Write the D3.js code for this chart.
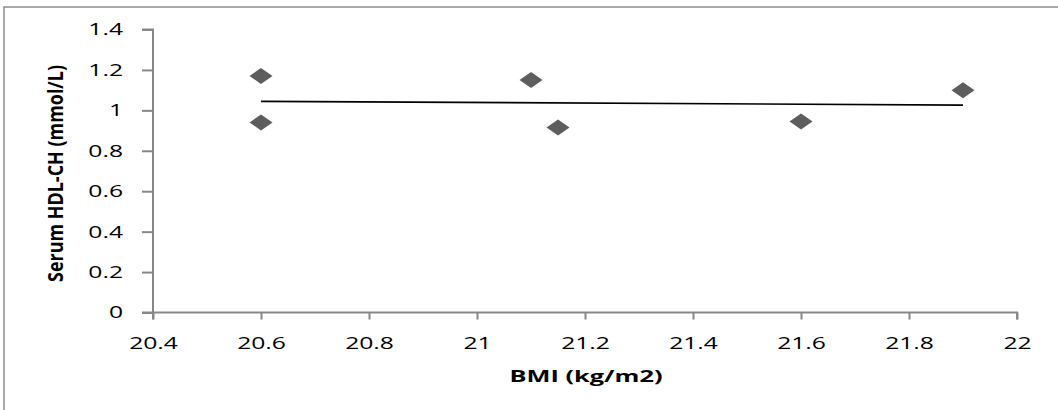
<!DOCTYPE html>
<html>
<head>
<meta charset="utf-8">
<script src="https://cdn.jsdelivr.net/npm/d3@7"></script>
<style>
  body { margin: 0; background: #fff; }
  text { font-family: "Open Sans", sans-serif; }
</style>
</head>
<body>
<div id="chart"></div>
<script>
// data
var bmi = [20.6, 20.6, 21.1, 21.15, 21.6, 21.9];
var hdl = [1.17, 0.94, 1.15, 0.915, 0.945, 1.10];
var xTicks = [20.4, 20.6, 20.8, 21, 21.2, 21.4, 21.6, 21.8, 22];
var yTicks = [0, 0.2, 0.4, 0.6, 0.8, 1, 1.2, 1.4];
var xTitle = "BMI (kg/m2)";
var yTitle = "Serum HDL-CH (mmol/L)";

var W = 1058, H = 410;
var stretch = 1.45; // the picture is wider than it is tall

var svg = d3.select("#chart").append("svg")
    .attr("width", W)
    .attr("height", H);

// chart border (right and bottom edges fall outside the picture)
svg.append("rect")
    .attr("x", 4).attr("y", 7)
    .attr("width", W + 10).attr("height", H + 10)
    .attr("fill", "none")
    .attr("stroke", "#8c8c8c")
    .attr("stroke-width", 1.5);

var x = d3.scaleLinear().domain([20.4, 22]).range([153, 1017]);
var y = d3.scaleLinear().domain([0, 1.4]).range([312.5, 29.5]);

var fmt = d => String(+d.toFixed(1));

// widen each label like the source
function widen(sel, k) {
  sel.each(function() {
    var len = this.getComputedTextLength();
    d3.select(this)
      .attr("textLength", len * k)
      .attr("lengthAdjust", "spacingAndGlyphs");
  });
}

var yAxis = svg.append("g")
    .attr("transform", "translate(" + x.range()[0] + ",0)")
    .call(d3.axisLeft(y).tickValues(yTicks).tickFormat(fmt)
      .tickSize(11).tickPadding(19));

var xAxis = svg.append("g")
    .attr("transform", "translate(0," + y.range()[0] + ")")
    .call(d3.axisBottom(x).tickValues(xTicks).tickFormat(fmt)
      .tickSize(7).tickPadding(17));

[xAxis, yAxis].forEach(function(a) {
  a.selectAll("path, line").attr("stroke", "#878787").attr("stroke-width", 2);
  a.selectAll("text")
    .attr("fill", "#000")
    .style("font-family", "'Open Sans', sans-serif")
    .style("font-size", "17px");
  widen(a.selectAll("text"), stretch);
});
yAxis.select(".domain").attr("d", "M-11,29.5H0V312.5H-11");
xAxis.select(".domain").attr("d", "M153,7V0H1017V7");

// trend line (least squares over the points)
var mx = d3.mean(bmi), my = d3.mean(hdl);
var sxy = d3.sum(bmi, (v, i) => (v - mx) * (hdl[i] - my));
var sxx = d3.sum(bmi, v => (v - mx) * (v - mx));
var slope = sxy / sxx, icpt = my - slope * mx;
var x0 = d3.min(bmi), x1 = d3.max(bmi);

svg.append("line")
    .attr("x1", x(x0)).attr("y1", y(icpt + slope * x0))
    .attr("x2", x(x1)).attr("y2", y(icpt + slope * x1))
    .attr("stroke", "#000")
    .attr("stroke-width", 1.6);

// diamond markers
svg.selectAll(".pt")
    .data(bmi)
    .enter()
    .append("path")
    .attr("class", "pt")
    .attr("d", "M0,-8L11.5,0L0,8L-11.5,0Z")
    .attr("transform", (d, i) => "translate(" + x(d) + "," + y(hdl[i]) + ")")
    .attr("fill", "#5d5d5d");

// axis titles
var xt = svg.append("text")
    .attr("x", 586).attr("y", 382)
    .attr("text-anchor", "middle")
    .style("font-weight", "bold")
    .style("font-size", "16.5px")
    .text(xTitle);
xt.attr("textLength", 153).attr("lengthAdjust", "spacingAndGlyphs");

var yt = svg.append("g")
    .attr("transform", "translate(63,173.5) scale(1.3,1) rotate(-90)")
    .append("text")
    .attr("text-anchor", "middle")
    .style("font-weight", "bold")
    .style("font-size", "16px")
    .text(yTitle);
yt.attr("textLength", 217).attr("lengthAdjust", "spacingAndGlyphs");
</script>
</body>
</html>
